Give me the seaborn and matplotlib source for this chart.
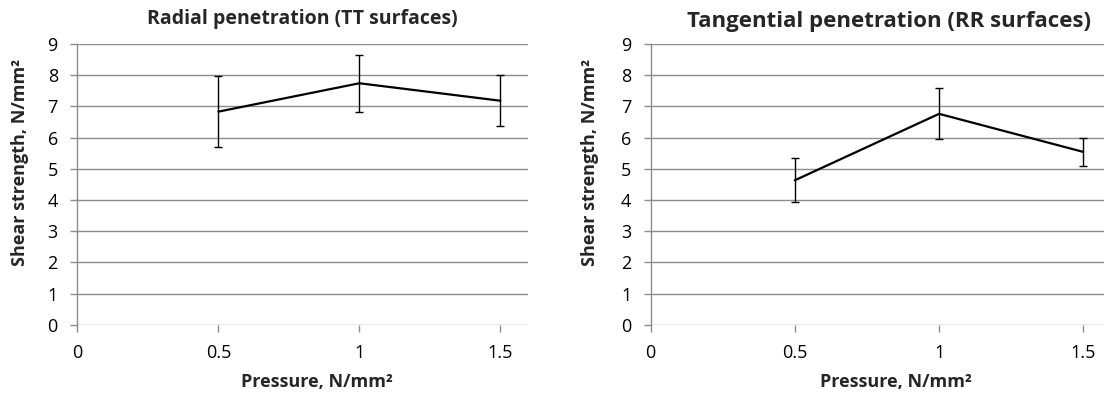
import matplotlib
matplotlib.use("Agg")
import matplotlib.pyplot as plt
import seaborn as sns
import pandas as pd

pressure = [0.5, 1.0, 1.5]
radial_mean = [6.83, 7.74, 7.18]
radial_err = [1.13, 0.91, 0.82]
tangential_mean = [4.63, 6.76, 5.54]
tangential_err = [0.71, 0.82, 0.46]
titles = ["Radial penetration (TT surfaces)", "Tangential penetration (RR surfaces)"]
xlabel = "Pressure, N/mm²"
ylabel = "Shear strength, N/mm²"
xticks = [0, 0.5, 1, 1.5]
xticklabels = ["0", "0.5", "1", "1.5"]
yticks = list(range(0, 10))

sns.set_theme(style="white")
plt.rcParams['font.family'] = ['Open Sans', 'DejaVu Sans']

W, H = 1104, 396
fig = plt.figure(figsize=(W / 100, H / 100), dpi=100)
grid_c = "#8c8c8c"

specs = [
    # mean, err, axes rect, xmax, title, title center (px), title size, ylabel x, xlabel center x
    (radial_mean, radial_err, [0.0700, 0.180, 0.4083, 0.709], 1.598, titles[0], (302, 19), 14, 20, 317),
    (tangential_mean, tangential_err, [0.5894, 0.180, 0.4106, 0.709], 1.572, titles[1], (889, 22), 16, 590, 896),
]

for mean, err, rect, xmax, title, tpos, tsize, ylx, xlx in specs:
    ax = fig.add_axes(rect)
    df = pd.DataFrame({"x": pressure, "y": mean})
    sns.lineplot(data=df, x="x", y="y", ax=ax, color="black", linewidth=1.6, zorder=3)
    ax.errorbar(pressure, mean, yerr=err, fmt="none", ecolor="black",
                elinewidth=1.0, capsize=3, capthick=1.0, zorder=4)
    ax.set_xlim(0, xmax)
    ax.set_ylim(0, 9)
    ax.set_xticks(xticks)
    ax.set_xticklabels(xticklabels)
    ax.set_yticks(yticks)
    ax.yaxis.grid(True, color=grid_c, linewidth=1.0)
    ax.xaxis.grid(False)
    for s in ["top", "right", "bottom"]:
        ax.spines[s].set_visible(False)
    ax.spines["left"].set_color(grid_c)
    ax.spines["left"].set_linewidth(1.0)
    ax.tick_params(axis="both", which="both", direction="out", length=5, width=1.0,
                   color=grid_c, labelsize=13, labelcolor="black",
                   bottom=True, left=True)
    ax.tick_params(axis="x", pad=9)
    ax.tick_params(axis="y", pad=9)
    ax.set_xlabel("")
    ax.set_ylabel("")
    fig.text(xlx / W, 1 - 382 / H, xlabel, ha="center", va="center",
             fontsize=13, fontweight="bold")
    fig.text(ylx / W, 1 - 162 / H, ylabel, rotation=90, ha="center", va="center",
             fontsize=13, fontweight="bold")
    fig.text(tpos[0] / W, 1 - tpos[1] / H, title, ha="center", va="center",
             fontsize=tsize, fontweight="bold")

fig.savefig("out.png", dpi=100)
